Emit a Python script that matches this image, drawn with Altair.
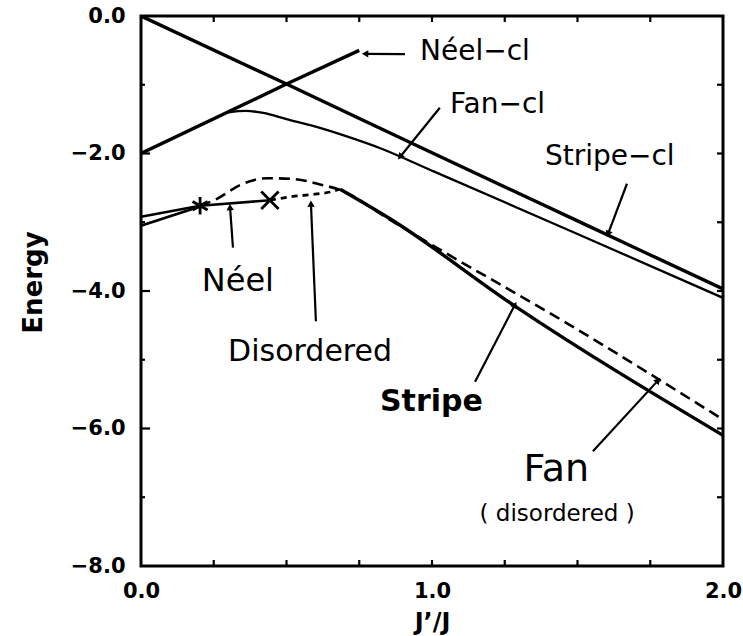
import math
import altair as alt
import pandas as pd

# ---------------- energy curves (J'/J, energy) ----------------
stripe_cl_j = [0.0, 0.5, 1.0, 1.5, 2.0]
stripe_cl_e = [0.0, -0.99, -1.99, -2.98, -3.97]

neel_cl_j = [0.0, 0.5, 0.75]
neel_cl_e = [-2.0, -0.99, -0.50]

fan_cl_j = [0.30, 0.36, 0.42, 0.50, 0.60, 0.72, 0.82, 1.0, 1.5, 2.0]
fan_cl_e = [-1.40, -1.38, -1.41, -1.50, -1.61, -1.77, -1.92, -2.25, -3.17, -4.10]

neel_hi_j = [0.0, 0.203]
neel_hi_e = [-2.92, -2.76]
neel_lo_j = [0.0, 0.203]
neel_lo_e = [-3.05, -2.77]

neel_j = [0.203, 0.443]
neel_e = [-2.76, -2.68]

disordered_j = [0.443, 0.512, 0.581, 0.649, 0.684]
disordered_e = [-2.68, -2.63, -2.60, -2.56, -2.52]

fan_j = [0.203, 0.261, 0.340, 0.433, 0.522, 0.615, 0.684, 0.85, 1.0, 1.464, 2.0]
fan_e = [-2.76, -2.66, -2.46, -2.36, -2.37, -2.45, -2.53, -2.95, -3.33, -4.47, -5.87]

stripe_j = [0.684, 0.856, 1.285, 2.0]
stripe_e = [-2.52, -2.95, -4.22, -6.10]

# transition points
star_j, star_e = [0.203], [-2.76]
cross_j, cross_e = [0.443], [-2.68]

# ---------------- annotations ----------------
label_text = ["Néel−cl", "Fan−cl", "Stripe−cl", "Néel", "Disordered",
              "Stripe", "Fan", "( disordered )"]
label_j = [0.959, 1.062, 1.388, 0.333, 0.581, 0.998, 1.427, 1.43]
label_e = [-0.646, -1.41, -2.17, -4.00, -5.02, -5.75, -6.76, -7.34]

arrow_tail_j = [0.907, 1.027, 1.670, 0.316, 0.601, 1.148, 1.553]
arrow_tail_e = [-0.555, -1.335, -2.44, -3.37, -4.44, -5.32, -6.33]
arrow_head_j = [0.770, 0.890, 1.605, 0.306, 0.584, 1.285, 1.777]
arrow_head_e = [-0.55, -2.05, -3.17, -2.78, -2.73, -4.20, -5.30]

# axis ticks
y_label_values = [0.0, -2.0, -4.0, -6.0, -8.0]
x_label_values = [0.0, 1.0, 2.0]
y_major_ticks = [-2.0, -4.0, -6.0]
y_minor_ticks = [-1.0, -3.0, -5.0, -7.0]
y_right_ticks = [-1.0, -2.0, -3.0, -4.0, -5.0, -6.0, -7.0]
x_ticks = [0.25, 0.5, 0.75, 1.0, 1.25, 1.5, 1.75]

W, H = 582, 550
FONT = "DejaVu Sans"

x_scale = alt.Scale(domain=[0, 2], nice=False, zero=False)
y_scale = alt.Scale(domain=[-8, 0], nice=False, zero=False)

x_axis = alt.Axis(values=x_label_values, format=".1f", title="J’/J",
                  domain=False, ticks=False, grid=False,
                  labelFont=FONT, labelFontSize=21, labelFontWeight="bold",
                  labelColor="black", labelPadding=14, labelFlush=False,
                  titleFont=FONT, titleFontSize=24, titleFontWeight="bold",
                  titleColor="black", titleY=56, titleBaseline="middle")
y_axis = alt.Axis(values=y_label_values, format=".1f", title="Energy",
                  domain=False, ticks=False, grid=False,
                  labelFont=FONT, labelFontSize=21, labelFontWeight="bold",
                  labelColor="black", labelPadding=16, labelFlush=False,
                  titleFont=FONT, titleFontSize=26, titleFontWeight="bold",
                  titleColor="black", titleX=-108, titleY=266,
                  titleBaseline="middle")


def X(field="j"):
    return alt.X(f"{field}:Q", scale=x_scale, axis=x_axis)


def Y(field="e"):
    return alt.Y(f"{field}:Q", scale=y_scale, axis=y_axis)


def curve_frame(name, js, es):
    return pd.DataFrame({"series": name, "j": js, "e": es, "k": range(len(js))})


curves = pd.concat([
    curve_frame("Stripe-cl", stripe_cl_j, stripe_cl_e),
    curve_frame("Néel-cl", neel_cl_j, neel_cl_e),
    curve_frame("Fan-cl", fan_cl_j, fan_cl_e),
    curve_frame("Néel a", neel_hi_j, neel_hi_e),
    curve_frame("Néel b", neel_lo_j, neel_lo_e),
    curve_frame("Néel", neel_j, neel_e),
    curve_frame("Disordered", disordered_j, disordered_e),
    curve_frame("Fan", fan_j, fan_e),
    curve_frame("Stripe", stripe_j, stripe_e),
], ignore_index=True)


def lines(names, width, dash=None):
    kw = dict(color="black", strokeWidth=width, interpolate="monotone", clip=True)
    if dash:
        kw["strokeDash"] = dash
    return alt.Chart(curves).transform_filter(
        alt.FieldOneOfPredicate(field="series", oneOf=names)
    ).mark_line(**kw).encode(x=X(), y=Y(), detail="series:N", order="k:Q")


layers = [
    lines(["Stripe-cl", "Néel-cl", "Stripe"], 3.4),
    lines(["Fan-cl"], 2.3),
    lines(["Néel a", "Néel b", "Néel"], 2.6),
    lines(["Fan"], 2.6, [11, 6]),
    lines(["Disordered"], 2.8, [6, 5]),
]

# transition markers
star_path = "M0,-1L0,1M-0.87,-0.5L0.87,0.5M-0.87,0.5L0.87,-0.5"
cross_path = "M-1,-1L1,1M-1,1L1,-1"
layers.append(alt.Chart(pd.DataFrame({"j": star_j, "e": star_e})).mark_point(
    shape=star_path, size=300, filled=False, stroke="black", strokeWidth=2.8, opacity=1
).encode(x=X(), y=Y()))
layers.append(alt.Chart(pd.DataFrame({"j": cross_j, "e": cross_e})).mark_point(
    shape=cross_path, size=300, filled=False, stroke="black", strokeWidth=2.8, opacity=1
).encode(x=X(), y=Y()))

# annotation arrows
px_j, px_e = W / 2.0, H / 8.0
angles = []
for tj, te, hj, he in zip(arrow_tail_j, arrow_tail_e, arrow_head_j, arrow_head_e):
    dx = (hj - tj) * px_j
    dy = -(he - te) * px_e
    angles.append(math.degrees(math.atan2(dx, -dy)) % 360)
arrows = pd.DataFrame({"j": arrow_tail_j, "e": arrow_tail_e,
                       "j2": arrow_head_j, "e2": arrow_head_e, "angle": angles})
layers.append(alt.Chart(arrows).mark_rule(color="black", strokeWidth=2.2).encode(
    x=X(), y=Y(), x2="j2:Q", y2="e2:Q"))
layers.append(alt.Chart(arrows).mark_point(
    shape="triangle-up", size=55, filled=True, color="black", opacity=1
).encode(x=X("j2"), y=Y("e2"), angle=alt.Angle("angle:Q", scale=None)))

# text labels
labels = pd.DataFrame({"label": label_text, "j": label_j, "e": label_e})


def text(names, size, align="left", weight="normal"):
    return alt.Chart(labels).transform_filter(
        alt.FieldOneOfPredicate(field="label", oneOf=names)
    ).mark_text(font=FONT, fontSize=size, fontWeight=weight, align=align,
                baseline="alphabetic", color="black").encode(
        x=X(), y=Y(), text="label:N")


layers += [
    text(["Néel−cl", "Fan−cl", "Stripe−cl"], 28),
    text(["Néel"], 32, "center"),
    text(["Disordered"], 30, "center"),
    text(["Stripe"], 30, "center", "bold"),
    text(["Fan"], 38, "center"),
    text(["( disordered )"], 23, "center"),
]

# inward tick marks on the frame
def ticks(values, at, orient, size):
    if orient == "horizontal":
        df = pd.DataFrame({"e": values, "j": at})
    else:
        df = pd.DataFrame({"j": values, "e": at})
    return alt.Chart(df).mark_tick(orient=orient, size=size, thickness=2.2,
                                   color="black", opacity=1, clip=True).encode(
        x=X(), y=Y())


layers += [
    ticks(y_major_ticks, 0.0, "horizontal", 18),
    ticks(y_minor_ticks, 0.0, "horizontal", 8),
    ticks(y_right_ticks, 2.0, "horizontal", 12),
    ticks(x_ticks, -8.0, "vertical", 12),
    ticks(x_ticks, 0.0, "vertical", 12),
]

chart = alt.layer(*layers).properties(
    width=W, height=H,
    autosize=alt.AutoSizeParams(type="none"),
    padding={"left": 141, "top": 16, "right": 20, "bottom": 70},
    background="white",
).configure_view(stroke="black", strokeWidth=3)

chart.save("out.html", embed_options={"renderer": "svg", "actions": False})
